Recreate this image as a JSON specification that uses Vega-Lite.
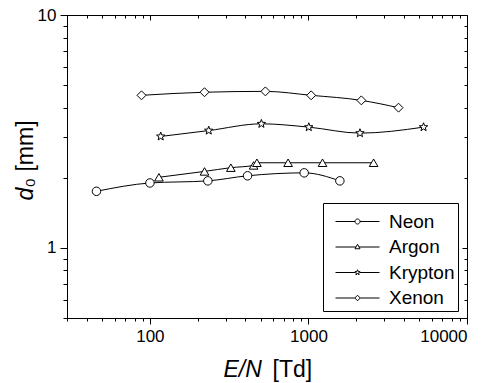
{
  "$schema": "https://vega.github.io/schema/vega-lite/v6.json",
  "autosize": "none",
  "width": 400,
  "height": 303,
  "padding": {"left": 67, "top": 15, "right": 27, "bottom": 65},
  "background": "white",
  "config": {
    "view": {"stroke": "black", "strokeWidth": 1},
    "font": "Liberation Sans",
    "axis": {"domainColor": "black", "tickColor": "black", "labelColor": "black", "titleColor": "black", "grid": false, "labelFont": "Liberation Sans", "titleFont": "Liberation Sans", "titleFontWeight": "normal", "labelFontSize": 17, "titleFontSize": 23}
  },
  "data": {"values": [
    {"gas": "Neon", "en": 46, "d0": 1.75},
    {"gas": "Neon", "en": 100, "d0": 1.90},
    {"gas": "Neon", "en": 232, "d0": 1.94},
    {"gas": "Neon", "en": 413, "d0": 2.04},
    {"gas": "Neon", "en": 940, "d0": 2.10},
    {"gas": "Neon", "en": 1578, "d0": 1.94},
    {"gas": "Argon", "en": 114, "d0": 2.01},
    {"gas": "Argon", "en": 221, "d0": 2.13},
    {"gas": "Argon", "en": 324, "d0": 2.21},
    {"gas": "Argon", "en": 451, "d0": 2.26},
    {"gas": "Argon", "en": 473, "d0": 2.32},
    {"gas": "Argon", "en": 744, "d0": 2.32},
    {"gas": "Argon", "en": 1227, "d0": 2.32},
    {"gas": "Argon", "en": 2576, "d0": 2.32},
    {"gas": "Krypton", "en": 117, "d0": 3.01},
    {"gas": "Krypton", "en": 235, "d0": 3.19},
    {"gas": "Krypton", "en": 505, "d0": 3.41},
    {"gas": "Krypton", "en": 1005, "d0": 3.30},
    {"gas": "Krypton", "en": 2113, "d0": 3.11},
    {"gas": "Krypton", "en": 5320, "d0": 3.30},
    {"gas": "Xenon", "en": 88.5, "d0": 4.52},
    {"gas": "Xenon", "en": 221, "d0": 4.66},
    {"gas": "Xenon", "en": 535, "d0": 4.70},
    {"gas": "Xenon", "en": 1040, "d0": 4.52},
    {"gas": "Xenon", "en": 2156, "d0": 4.30},
    {"gas": "Xenon", "en": 3700, "d0": 4.00}
  ]},
  "layer": [
    {
      "mark": {"type": "point", "filled": false, "stroke": "black", "strokeWidth": 1, "size": 0.2},
      "encoding": {
        "x": {"field": "en", "type": "quantitative", "scale": {"type": "log", "domain": [30, 10000], "nice": false},
          "axis": {"orient": "bottom", "title": "[Td]", "labels": false, "ticks": false, "domain": false, "titleAlign": "left", "titleAnchor": "start", "titleX": 205, "titleY": 58, "titleBaseline": "alphabetic"}},
        "y": {"field": "d0", "type": "quantitative", "scale": {"type": "log", "domain": [0.5, 10], "nice": false},
          "axis": {"orient": "left", "title": "₀ [mm]", "labels": false, "ticks": false, "domain": false, "titleAngle": -90, "titleAlign": "left", "titleAnchor": "start", "titleX": -35, "titleY": 172, "titleBaseline": "alphabetic"}},
        "shape": {"field": "gas", "type": "nominal",
          "scale": {"domain": ["Neon", "Argon", "Krypton", "Xenon"],
            "range": [
              "M-8.8,0L-1,0M1,0L8.8,0M-1,0A1,1,0,1,0,1,0A1,1,0,1,0,-1,0Z",
              "M-8.8,0L-0.6,0M0.6,0L8.8,0M0,-1.1L1,0.7L-1,0.7Z",
              "M-8.8,0L-0.85,0M0.85,0L8.8,0M0,-1.1L0.27,-0.37L1.05,-0.34L0.44,0.14L0.65,0.89L0,0.46L-0.65,0.89L-0.44,0.14L-1.05,-0.34L-0.27,-0.37Z",
              "M-8.8,0L-1.1,0M1.1,0L8.8,0M0,-1.1L1.1,0L0,1.1L-1.1,0Z"
            ]},
          "legend": {"orient": "none", "legendX": 256, "legendY": 188, "title": " ", "titleFontSize": 2, "titlePadding": 4,
            "strokeColor": "black", "fillColor": "white", "padding": 3, "cornerRadius": 0,
            "symbolSize": 25, "symbolStrokeColor": "black", "symbolStrokeWidth": 1, "symbolOpacity": 1,
            "symbolOffset": 22, "labelOffset": 22,
            "labelExpr": "datum.label + '\u00a0\u00a0'",
            "labelFontSize": 19, "labelFont": "Liberation Sans", "labelColor": "black", "rowPadding": 5.5}}
      }
    },
    {
      "mark": {"type": "line", "interpolate": "monotone", "stroke": "black", "strokeWidth": 1},
      "encoding": {
        "x": {"field": "en", "type": "quantitative",
          "axis": {"orient": "bottom", "title": "E/N", "titleFontStyle": "italic", "titleAlign": "left", "titleAnchor": "start", "titleX": 156, "titleY": 58, "titleBaseline": "alphabetic",
            "values": [30,40,50,60,70,80,90,100,200,300,400,500,600,700,800,900,1000,2000,3000,4000,5000,6000,7000,8000,9000,10000],
            "labelExpr": "datum.value==100||datum.value==1000||datum.value==10000 ? format(datum.value,'d') : ''",
            "labelOverlap": false, "labelPadding": 4,
            "tickSize": {"condition": {"test": "datum.value==100||datum.value==1000||datum.value==10000", "value": 6}, "value": 3}}},
        "y": {"field": "d0", "type": "quantitative",
          "axis": {"orient": "left", "title": "d", "titleFontStyle": "italic", "titleAngle": -90, "titleAlign": "left", "titleAnchor": "start", "titleX": -35, "titleY": 185, "titleBaseline": "alphabetic",
            "values": [0.5,0.6,0.7,0.8,0.9,1,2,3,4,5,6,7,8,9,10],
            "labelExpr": "datum.value==1||datum.value==10 ? format(datum.value,'d') : ''",
            "labelOverlap": false, "labelPadding": 4,
            "tickSize": {"condition": {"test": "datum.value==1||datum.value==10", "value": 7}, "value": 4}}},
        "detail": {"field": "gas"}
      }
    },
    {
      "mark": {"type": "point", "filled": true, "fill": "white", "stroke": "black", "strokeWidth": 1, "opacity": 1},
      "encoding": {
        "x": {"field": "en", "type": "quantitative",
          "axis": {"orient": "top", "title": null, "labels": false, "domain": false,
            "values": [30,40,50,60,70,80,90,100,200,300,400,500,600,700,800,900,1000,2000,3000,4000,5000,6000,7000,8000,9000,10000],
            "tickSize": {"condition": {"test": "datum.value==100||datum.value==1000||datum.value==10000", "value": -5}, "value": -3}}},
        "y": {"field": "d0", "type": "quantitative",
          "axis": {"orient": "right", "title": null, "labels": false, "domain": false,
            "values": [0.5,0.6,0.7,0.8,0.9,1,2,3,4,5,6,7,8,9,10],
            "tickSize": {"condition": {"test": "datum.value==1||datum.value==10", "value": -5}, "value": -3}}},
        "shape": {"field": "gas", "type": "nominal", "legend": null,
          "scale": {"domain": ["Neon", "Argon", "Krypton", "Xenon"],
            "range": ["circle", "triangle-up", "M0,-1L0.247,-0.34L0.951,-0.309L0.399,0.13L0.588,0.809L0,0.42L-0.588,0.809L-0.399,0.13L-0.951,-0.309L-0.247,-0.34Z", "diamond"]}},
        "size": {"field": "gas", "type": "nominal", "legend": null,
          "scale": {"domain": ["Neon", "Argon", "Krypton", "Xenon"], "range": [72, 80, 110, 85]}}
      }
    }
  ],
  "resolve": {"scale": {"shape": "independent", "size": "independent"}, "axis": {"x": "independent", "y": "independent"}}
}
